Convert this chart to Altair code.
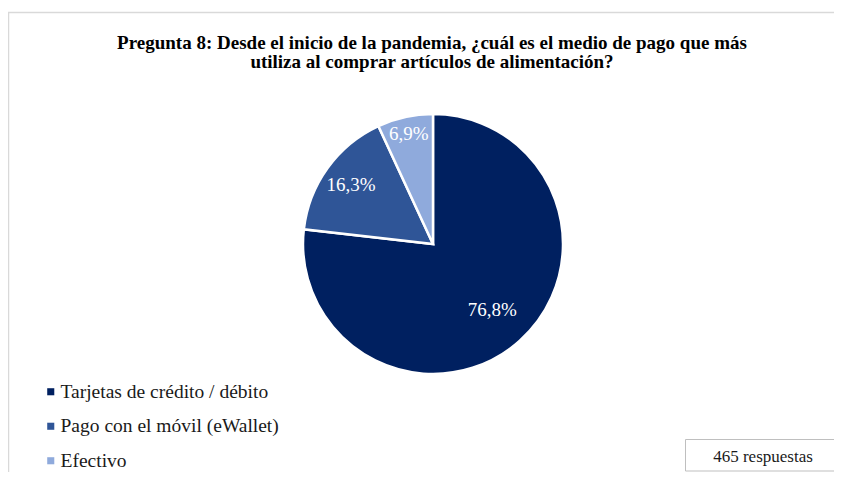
import altair as alt
import pandas as pd

# ---- data ----
categories = ["Tarjetas de crédito / débito", "Pago con el móvil (eWallet)", "Efectivo"]
percentages = [76.8, 16.3, 6.9]
order_idx = [0, 1, 2]
colors = ["#002060", "#2F5597", "#8FAADC"]
title_lines = [
    "Pregunta 8: Desde el inicio de la pandemia, ¿cuál es el medio de pago que más",
    "utiliza al comprar artículos de alimentación?",
]
responses_text = "465 respuestas"

df = pd.DataFrame({"medio": categories, "pct": percentages, "orden": order_idx})

FONT = "Liberation Serif"
W, H = 826, 464
CX, CY, R = 425, 236, 130

base = alt.Chart(df)

frame = alt.Chart(pd.DataFrame({"a": [0]})).mark_rect(
    fillOpacity=0, stroke="#d9d9d9", strokeWidth=1.5
).encode(x=alt.value(0.5), x2=alt.value(W + 20), y=alt.value(4.5), y2=alt.value(H + 20))

title = alt.Chart(pd.DataFrame({"a": [0]})).mark_text(
    font=FONT, fontSize=19, fontWeight="bold", color="#000000",
    align="center", baseline="alphabetic", lineHeight=19,
).encode(x=alt.value(424), y=alt.value(41), text=alt.value(title_lines))

pie = base.mark_arc(outerRadius=R, stroke="white", strokeWidth=2.5).encode(
    theta=alt.Theta("pct:Q", stack=True),
    order=alt.Order("orden:Q", sort="ascending"),
    color=alt.Color(
        "medio:N",
        scale=alt.Scale(domain=categories, range=colors),
        sort=categories,
        legend=alt.Legend(
            title=None, orient="none", legendX=33, legendY=374,
            symbolType="square", symbolSize=50, symbolStrokeWidth=0,
            labelFont=FONT, labelFontSize=19.5, labelColor="#1a1a1a",
            rowPadding=13.5, labelOffset=0, padding=0, labelLimit=400,
        ),
    ),
    x=alt.value(CX), y=alt.value(CY),
)

labels = base.transform_window(
    cum="sum(pct)", sort=[alt.SortField("orden", order="ascending")]
).transform_joinaggregate(
    total="sum(pct)"
).transform_calculate(
    mid="(datum.cum - datum.pct / 2) / datum.total",
    lbl="replace(format(datum.pct, '.1f'), '.', ',') + '%'",
).mark_text(
    font=FONT, fontSize=19, color="white", align="center", baseline="middle"
).encode(
    theta=alt.Theta("mid:Q", stack=None, scale=alt.Scale(domain=[0, 1], range=[0, 6.283185307179586])),
    radius=alt.Radius("orden:Q", scale=alt.Scale(type="linear", domain=[0, 2], range=[89, 113])),
    text="lbl:N",
    x=alt.value(CX), y=alt.value(CY),
)

box = alt.Chart(pd.DataFrame({"a": [0]})).mark_rect(
    fill="white", stroke="#bfbfbf", strokeWidth=1
).encode(x=alt.value(677.5), x2=alt.value(W + 10), y=alt.value(431.5), y2=alt.value(463))

box_text = alt.Chart(pd.DataFrame({"a": [0]})).mark_text(
    font=FONT, fontSize=17, color="#1a1a1a", align="center", baseline="middle"
).encode(x=alt.value(755), y=alt.value(449), text=alt.value(responses_text))

chart = alt.layer(frame, title, pie, labels, box, box_text).properties(
    width=W, height=H, autosize=alt.AutoSizeParams(type="none"), padding=0
).resolve_scale(theta="independent", radius="independent").configure_view(stroke=None)

chart.save("out.html", embed_options={"renderer": "svg", "actions": False})
